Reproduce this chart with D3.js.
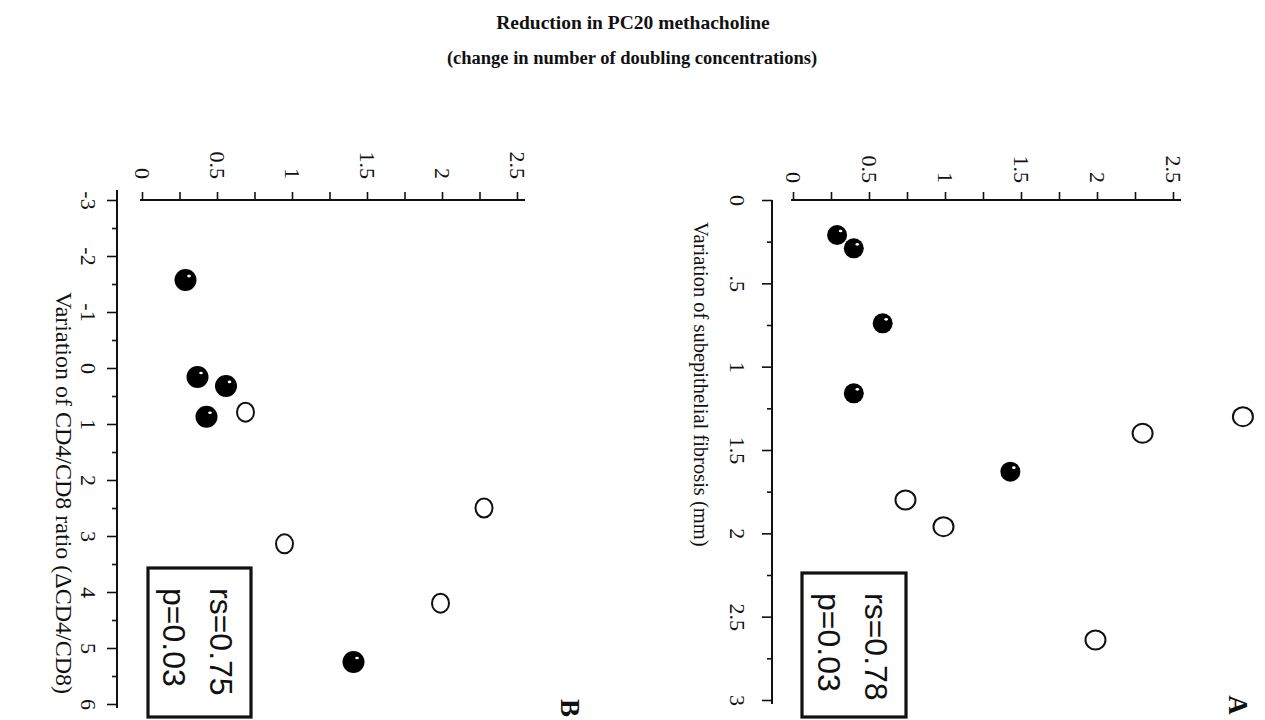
<!DOCTYPE html>
<html><head><meta charset="utf-8">
<script src="https://cdn.jsdelivr.net/npm/d3@7"></script>
<style>body{margin:0;background:#fff}</style>
</head><body><svg id="c" width="1265" height="720"></svg>
<script>
// ---- text ----
const titleLines = ["Reduction in PC20 methacholine", "(change in number of doubling concentrations)"];
const titleA = "Variation of subepithelial fibrosis (mm)";
const titleB = "Variation of CD4/CD8 ratio (\u0394CD4/CD8)";
const statsA = ["rs=0.78", "p=0.03"];
const statsB = ["rs=0.75", "p=0.03"];
// ---- ticks ----
const pc20Ticks = [0, 0.5, 1, 1.5, 2, 2.5];
const pc20TickLabels = ["0", "0.5", "1", "1.5", "2", "2.5"];
const fibrosisTicks = [0, 0.5, 1, 1.5, 2, 2.5, 3];
const fibrosisTickLabels = ["0", ".5", "1", "1.5", "2", "2.5", "3"];
const cd4Ticks = [-3, -2, -1, 0, 1, 2, 3, 4, 5, 6];
const cd4TickLabels = ["-3", "-2", "-1", "0", "1", "2", "3", "4", "5", "6"];
// ---- panel A data (fibrosis vs PC20 reduction) ----
const fibrosisFilled = [0.21, 0.29, 0.74, 1.16, 1.63];
const pc20FibFilled  = [0.29, 0.40, 0.59, 0.40, 1.43];
const fibrosisOpen   = [1.30, 1.40, 1.80, 1.96, 2.64];
const pc20FibOpen    = [2.96, 2.30, 0.74, 0.99, 1.99];
// ---- panel B data (CD4/CD8 vs PC20 reduction) ----
const cd4Filled   = [-1.57, 0.16, 0.32, 0.87, 5.25];
const pc20CdFilled = [0.29, 0.37, 0.56, 0.43, 1.41];
const cd4Open     = [0.79, 2.50, 3.14, 4.20];
const pc20CdOpen  = [0.69, 2.28, 0.95, 1.99];

const svg = d3.select("#c");
svg.append("rect").attr("width", 1265).attr("height", 720).attr("fill", "#fff");
const INK = "#111";
const SERIF = "'Liberation Serif', 'DejaVu Serif', serif";
const SANS = "'Liberation Sans', Arial, sans-serif";

svg.append("text").attr("x", 633).attr("y", 29).attr("text-anchor", "middle")
  .attr("font-family", SERIF).attr("font-weight", "bold").attr("font-size", 19.5).attr("fill", INK)
  .text(titleLines[0]);
svg.append("text").attr("x", 632).attr("y", 64).attr("text-anchor", "middle")
  .attr("font-family", SERIF).attr("font-weight", "bold").attr("font-size", 18.5).attr("fill", INK)
  .text(titleLines[1]);

function rotText(x, y, str, opts) {
  return svg.append("text")
    .attr("transform", `translate(${x},${y}) rotate(90)`)
    .attr("text-anchor", opts.anchor || "middle")
    .attr("font-family", opts.family).attr("font-size", opts.size)
    .attr("font-weight", opts.weight || "normal").attr("fill", INK).text(str);
}

function panel(cfg) {
  const x = cfg.x, y = cfg.y;
  // top axis (PC20)
  const topVals = d3.range(0, 2.5001, 0.25);
  const gTop = svg.append("g").attr("transform", `translate(0,${cfg.topY})`)
    .call(d3.axisTop(x).tickValues(topVals).tickSize(8).tickSizeOuter(0)
      .tickFormat(d => { const i = pc20Ticks.indexOf(d); return i >= 0 ? pc20TickLabels[i] : ""; }));
  gTop.select(".domain").remove();
  gTop.selectAll(".tick line").attr("stroke", INK).attr("stroke-width", 1.6);
  gTop.selectAll("text").attr("transform", "rotate(90)").attr("x", -cfg.topPad).attr("y", 0)
    .attr("dy", "0.35em").attr("text-anchor", "end")
    .attr("font-family", SERIF).attr("font-size", 22).attr("fill", INK);
  svg.append("line").attr("x1", x.range()[0] - 2).attr("x2", x.range()[1] + 8)
    .attr("y1", cfg.topY).attr("y2", cfg.topY).attr("stroke", INK).attr("stroke-width", 2);

  // left axis (variation)
  const gLeft = svg.append("g").attr("transform", `translate(${cfg.leftX},0)`)
    .call(d3.axisLeft(y).tickValues(cfg.leftVals).tickSize(10).tickSizeOuter(0)
      .tickFormat(d => { const i = cfg.leftTicks.indexOf(d); return i >= 0 ? cfg.leftLabels[i] : ""; }));
  gLeft.select(".domain").remove();
  gLeft.selectAll(".tick line").attr("stroke", INK).attr("stroke-width", 1.6)
    .attr("x2", d => cfg.leftTicks.indexOf(d) >= 0 ? -10 : -5);
  gLeft.selectAll("text").attr("transform", "rotate(90)").attr("x", 0).attr("y", cfg.leftPad)
    .attr("dy", "0.71em").attr("text-anchor", "middle")
    .attr("font-family", SERIF).attr("font-size", 22).attr("fill", INK);
  svg.append("line").attr("x1", cfg.leftX).attr("x2", cfg.leftX)
    .attr("y1", y.range()[0] - cfg.leftOver).attr("y2", y.range()[1] + 4)
    .attr("stroke", INK).attr("stroke-width", 2);

  // axis title
  rotText(cfg.titleX, cfg.titleY, cfg.title, { family: SERIF, size: cfg.titleSize, anchor: "start" });

  // points
  cfg.openV.forEach((v, i) => {
    svg.append("ellipse").attr("cx", x(cfg.openP[i])).attr("cy", y(v))
      .attr("rx", cfg.openRx).attr("ry", 9.5).attr("fill", "none")
      .attr("stroke", INK).attr("stroke-width", 2);
  });
  cfg.filledV.forEach((v, i) => {
    const cx = x(cfg.filledP[i]), cy = y(v);
    svg.append("circle").attr("cx", cx).attr("cy", cy).attr("r", cfg.filledR).attr("fill", "#000");
    svg.append("ellipse").attr("cx", cx + 3.5).attr("cy", cy - 4).attr("rx", 1.8).attr("ry", 1.3).attr("fill", "#fff");
  });

  // stats box
  const b = cfg.box;
  svg.append("rect").attr("x", b.x).attr("y", b.y).attr("width", b.w).attr("height", b.h)
    .attr("fill", "none").attr("stroke", INK).attr("stroke-width", 3.2);
  rotText(b.rsX, b.textY, cfg.stats[0], { family: SANS, size: 32, anchor: "start" });
  rotText(b.pX, b.textY, cfg.stats[1], { family: SANS, size: 32, anchor: "start" });

  // panel letter
  rotText(cfg.letter.x, cfg.letter.y, cfg.letter.t, { family: SERIF, size: 27, weight: "bold" });
}

panel({
  x: d3.scaleLinear().domain([0, 2.5]).range([793, 1173]),
  y: d3.scaleLinear().domain([0, 3]).range([200, 700]),
  topY: 200, topPad: 17,
  leftX: 772, leftPad: 26, leftOver: 0,
  leftVals: d3.range(0, 3.0001, 0.25), leftTicks: fibrosisTicks, leftLabels: fibrosisTickLabels,
  title: titleA, titleX: 694, titleY: 222, titleSize: 20.5,
  filledV: fibrosisFilled, filledP: pc20FibFilled, openV: fibrosisOpen, openP: pc20FibOpen,
  filledR: 10, openRx: 10,
  box: { x: 802, y: 573, w: 104, h: 144, rsX: 865, pX: 818, textY: 593 },
  stats: statsA,
  letter: { x: 1229, y: 705, t: "A" }
});

panel({
  x: d3.scaleLinear().domain([0, 2.5]).range([142, 517]),
  y: d3.scaleLinear().domain([-3, 6]).range([200, 704]),
  topY: 200, topPad: 21,
  leftX: 117, leftPad: 20, leftOver: 10,
  leftVals: d3.range(-3, 6.0001, 0.5), leftTicks: cd4Ticks, leftLabels: cd4TickLabels,
  title: titleB, titleX: 56, titleY: 292, titleSize: 24,
  filledV: cd4Filled, filledP: pc20CdFilled, openV: cd4Open, openP: pc20CdOpen,
  filledR: 11, openRx: 8.5,
  box: { x: 148, y: 568, w: 103, h: 149, rsX: 210, pX: 163, textY: 588 },
  stats: statsB,
  letter: { x: 561, y: 708, t: "B" }
});
</script></body></html>
